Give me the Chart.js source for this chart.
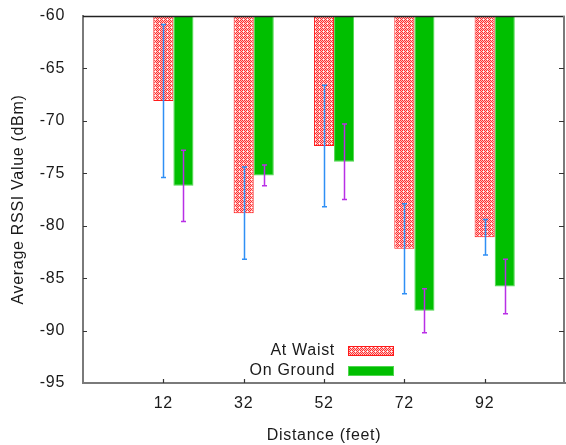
<!DOCTYPE html>
<html>
<head>
<meta charset="utf-8">
<script src="https://cdn.jsdelivr.net/npm/chart.js@4/dist/chart.umd.min.js"></script>
<style>
  html, body { margin: 0; padding: 0; background: #ffffff; }
  #wrap { width: 566px; height: 445px; position: relative; }
</style>
</head>
<body>
<div id="wrap"><canvas id="chart"></canvas></div>
<script>
// Distance categories (feet) and mean RSSI readings with their spread
const distances   = [12, 32, 52, 72, 92];
const waistMean   = [-68.1, -78.8, -72.4, -82.2, -81.1];
const waistErr    = [7.3, 4.4, 5.8, 4.3, 1.7];
const groundMean  = [-76.2, -75.2, -73.9, -88.1, -85.8];
const groundErr   = [3.4, 1.0, 3.6, 2.1, 2.6];
const yTickValues = [-60, -65, -70, -75, -80, -85, -90, -95];
const seriesLabels = ['At Waist', 'On Ground'];
const xTitle = 'Distance (feet)';
const yTitle = 'Average RSSI Value (dBm)';

const FONT = "'Liberation Sans', Arial, Helvetica, sans-serif";
const TEXT = '#1a1a1a';
const AXIS = '#7a7a7a';

// Fine red crosshatch fill for the first series
function makeHatch() {
  const t = document.createElement('canvas');
  t.width = 4; t.height = 4;
  const g = t.getContext('2d');
  g.fillStyle = '#ffc4c4';
  g.fillRect(0, 0, 4, 4);
  g.fillStyle = '#ff3030';
  [[0,0],[2,0],[1,1],[3,1],[0,2],[2,2],[1,3]].forEach(([x, y]) => g.fillRect(x, y, 1, 1));
  g.fillStyle = '#ffffff';
  g.fillRect(3, 3, 1, 1);
  return g.createPattern(t, 'repeat');
}
const hatch = makeHatch();

const errorColors = ['#2f8ff5', '#b92fe6'];
const spreads = [waistErr, groundErr];
const means = [waistMean, groundMean];

// Slightly open lettering for every label the chart draws
const letterSpacing = {
  id: 'letterSpacing',
  beforeInit(chart) { chart.ctx.letterSpacing = '0.7px'; },
  beforeUpdate(chart) { chart.ctx.letterSpacing = '0.7px'; },
  beforeDraw(chart) { chart.ctx.letterSpacing = '0.7px'; }
};

// Error bars: mean ± spread, drawn through the y scale at each bar's centre
const errorBars = {
  id: 'errorBars',
  afterDatasetsDraw(chart) {
    const ctx = chart.ctx;
    const y = chart.scales.y;
    chart.data.datasets.forEach((ds, di) => {
      const meta = chart.getDatasetMeta(di);
      meta.data.forEach((bar, i) => {
        const m = means[di][i], e = spreads[di][i];
        const top = y.getPixelForValue(m + e);
        const bot = y.getPixelForValue(m - e);
        const x = Math.round(bar.x) + 0.5;
        ctx.save();
        ctx.strokeStyle = errorColors[di];
        ctx.lineWidth = 1.5;
        ctx.beginPath();
        ctx.moveTo(x, top); ctx.lineTo(x, bot);
        ctx.moveTo(x - 2.5, top); ctx.lineTo(x + 2.5, top);
        ctx.moveTo(x - 2.5, bot); ctx.lineTo(x + 2.5, bot);
        ctx.stroke();
        ctx.restore();
      });
    });
  }
};

// Frame on top/right plus inward tick marks on all sides
const frame = {
  id: 'frame',
  afterDraw(chart) {
    const ctx = chart.ctx;
    const a = chart.chartArea;
    const y = chart.scales.y;
    const xt = chart.scales.xt;
    ctx.save();
    ctx.lineWidth = 1.5;
    ctx.strokeStyle = '#222222';
    ctx.beginPath();
    ctx.moveTo(a.left, a.top + 0.5); ctx.lineTo(a.right, a.top + 0.5);
    ctx.stroke();
    ctx.strokeStyle = AXIS;
    ctx.lineWidth = 2;
    ctx.beginPath();
    ctx.moveTo(a.right - 1, a.top); ctx.lineTo(a.right - 1, a.bottom);
    ctx.stroke();
    ctx.lineWidth = 1.2;
    ctx.strokeStyle = '#333333';
    ctx.beginPath();
    yTickValues.forEach(v => {
      const p = Math.round(y.getPixelForValue(v)) + 0.5;
      if (v !== -60 && v !== -95) {
        ctx.moveTo(a.left, p); ctx.lineTo(a.left + 4, p);
        ctx.moveTo(a.right - 6, p); ctx.lineTo(a.right - 1, p);
      }
    });
    distances.forEach(d => {
      const p = Math.round(xt.getPixelForValue(d)) + 0.5;
      ctx.moveTo(p, a.bottom); ctx.lineTo(p, a.bottom - 4);
    });
    ctx.stroke();
    ctx.restore();
  }
};

// Key inside the plot: label on the left, swatch on the right
const key = {
  id: 'key',
  afterDraw(chart) {
    const ctx = chart.ctx;
    const a = chart.chartArea;
    const cx = (a.left + a.right) / 2;
    ctx.save();
    ctx.font = '16px ' + FONT;
    ctx.textAlign = 'right';
    ctx.textBaseline = 'middle';
    chart.data.datasets.forEach((ds, i) => {
      const rowY = a.bottom - 32 + i * 20;
      ctx.fillStyle = TEXT;
      ctx.fillText(ds.label, cx + 11, rowY);
      ctx.fillStyle = ds.backgroundColor;
      ctx.fillRect(cx + 24, rowY - 5, 46, 10);
      ctx.strokeStyle = ds.borderColor;
      ctx.lineWidth = 1;
      ctx.strokeRect(cx + 24.5, rowY - 4.5, 45, 9);
    });
    ctx.restore();
  }
};

Chart.defaults.font.family = FONT;
Chart.defaults.font.size = 16;
Chart.defaults.color = TEXT;

new Chart(document.getElementById('chart'), {
  type: 'bar',
  data: {
    datasets: [
      {
        label: seriesLabels[0],
        data: distances.map((d, i) => ({ x: d, y: waistMean[i] })),
        backgroundColor: hatch,
        borderColor: '#ff1a1a',
        borderWidth: 1,
        categoryPercentage: 0.5,
        barPercentage: 1.0
      },
      {
        label: seriesLabels[1],
        data: distances.map((d, i) => ({ x: d, y: groundMean[i] })),
        backgroundColor: '#00bf00',
        borderColor: '#4fd64f',
        borderWidth: 1,
        categoryPercentage: 0.5,
        barPercentage: 1.0
      }
    ]
  },
  options: {
    responsive: true,
    maintainAspectRatio: false,
    animation: false,
    layout: { padding: { top: 16, right: 1, left: 0, bottom: 0 } },
    plugins: { legend: { display: false }, tooltip: { enabled: false } },
    scales: {
      // bar placement axis: offset by half a bar so the first bar of each pair sits on its tick
      x: {
        type: 'linear',
        display: false,
        offset: false,
        bounds: 'data',
        min: -10.5,
        max: 109.5
      },
      // visible distance axis
      xt: {
        type: 'linear',
        axis: 'x',
        position: 'bottom',
        offset: false,
        bounds: 'data',
        min: -8,
        max: 112,
        afterBuildTicks: s => { s.ticks = distances.map(v => ({ value: v })); },
        grid: { display: false, drawTicks: false },
        border: { display: true, color: AXIS, width: 2 },
        ticks: { padding: 11, color: TEXT, font: { size: 16 }, callback: v => String(v) },
        title: { display: true, text: xTitle, color: TEXT, font: { size: 16 }, padding: { top: 0, bottom: 0 } },
        afterFit: s => { s.height = 62; s.paddingLeft = 0; s.paddingRight = 0; }
      },
      y: {
        type: 'linear',
        min: -95,
        max: -60,
        bounds: 'data',
        afterBuildTicks: s => { s.ticks = yTickValues.map(v => ({ value: v })); },
        grid: { display: false, drawTicks: false },
        border: { display: true, color: AXIS, width: 2 },
        ticks: { padding: 18, color: TEXT, font: { size: 16 } },
        title: { display: true, text: yTitle, color: TEXT, font: { size: 16 }, padding: { top: 9, bottom: 0 } },
        afterFit: s => { s.width = 83; s.paddingTop = 0; s.paddingBottom = 0; }
      }
    }
  },
  plugins: [letterSpacing, errorBars, frame, key]
});
</script>
</body>
</html>
